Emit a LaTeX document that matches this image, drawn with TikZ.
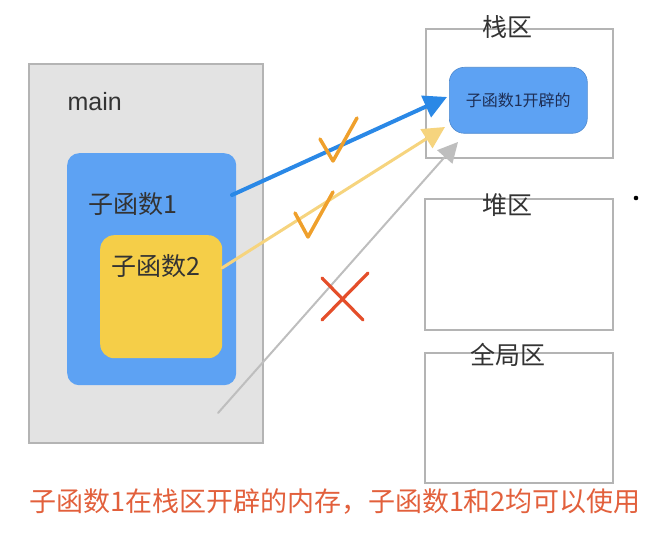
\documentclass[tikz,border=0pt]{standalone}
\usepackage{fontspec}
\setmainfont{Liberation Sans}
\newfontfamily\cjk{Noto Sans CJK SC}
\usetikzlibrary{arrows.meta,positioning}
\definecolor{framegray}{HTML}{B4B4B4}
\definecolor{maingray}{HTML}{E3E3E3}
\definecolor{funcblue}{HTML}{5DA2F3}
\definecolor{funcyellow}{HTML}{F5CE48}
\definecolor{linkblue}{HTML}{2A88E6}
\definecolor{linkyellow}{HTML}{F6D47E}
\definecolor{linkgray}{HTML}{BEBEBE}
\definecolor{tickorange}{HTML}{EFA02C}
\definecolor{crossred}{HTML}{E44E2A}
\definecolor{notered}{HTML}{E2603C}
\definecolor{textdark}{HTML}{333333}
\definecolor{textnavy}{HTML}{1E2E55}

\begin{document}
\begin{tikzpicture}[x=1pt, y=-1pt,
  area/.style={draw=framegray, line width=1.8pt, anchor=north west, inner sep=0pt},
  func/.style={anchor=north west, rounded corners=12pt, inner sep=0pt},
  lbl/.style={text=textdark, font=\cjk\fontsize{25}{28}\selectfont},
  link/.style={line width=#1, line cap=round},
  tickline/.style={tickorange, line width=3.5pt, line cap=round, line join=round}]
\useasboundingbox (0,0) rectangle (670,537);
% left: main and the two functions
\node[area, fill=maingray, minimum width=234pt, minimum height=379pt] (main) at (28,63) {};
\node[anchor=west, text=textdark, font=\fontsize{25}{28}\selectfont] (mainlbl) at (64,102) {main};
\node[func, fill=funcblue, minimum width=169pt, minimum height=232pt] (sub1) at (67,153) {};
\node[lbl] (sub1lbl) at (133,204) {子函数1};
\node[func, fill=funcyellow, rounded corners=14pt, minimum width=122pt, minimum height=123pt] (sub2) at (100,235) {};
\node[lbl] (sub2lbl) at (156,266) {子函数2};
% right: memory areas
\node[area, fill=white, minimum width=187pt, minimum height=129pt] (stack) at (425,28) {};
\node[lbl] (stacklbl) at (507,27) {栈区};
\node[func, fill=funcblue, draw=funcblue!85!black, line width=0.6pt, rounded corners=15pt,
  minimum width=138pt, minimum height=66pt] (alloc) at (449,67) {};
\node[text=textnavy, font=\cjk\fontsize{16}{18}\selectfont] (alloclbl) at (alloc.center) {子函数1开辟的};
\node[area, fill=white, minimum width=188pt, minimum height=131pt] (heap) at (424,198) {};
\node[lbl] (heaplbl) at (507,205) {堆区};
\node[area, fill=white, minimum width=188pt, minimum height=130pt] (global) at (424,352) {};
\node[lbl] (globallbl) at (508,355) {全局区};
\fill (636,198) circle (2.3pt);
% connectors
\coordinate (fromsub1) at (232,195);
\coordinate (fromsub2) at (222,268);
\coordinate (frommain) at (218,413);
\coordinate (tipblue) at (447,97);
\coordinate (tipyellow) at (445,127);
\coordinate (tipgray) at (458,142);
\draw[link=2pt, linkgray, -{Triangle[length=20pt,width=20pt]}] (frommain) -- (tipgray);
\draw[link=3pt, linkyellow, -{Triangle[length=22pt,width=22pt]}] (fromsub2) -- (tipyellow);
\draw[link=4pt, linkblue, -{Triangle[length=23pt,width=23pt]}] (fromsub1) -- (tipblue);
% ticks and cross
\draw[tickline] (320,139) -- (333,161) -- (357,118);
\draw[tickline] (295,213) -- (308,237) -- (333,192);
\draw[crossred, line width=3.2pt, line cap=round] (322,278) -- (363,320) (368,273) -- (322,320);
% note
\node[text=notered, font=\cjk\fontsize{27}{30}\selectfont] (note) at (335,502) {子函数1在栈区开辟的内存，子函数1和2均可以使用};
\end{tikzpicture}
\end{document}
